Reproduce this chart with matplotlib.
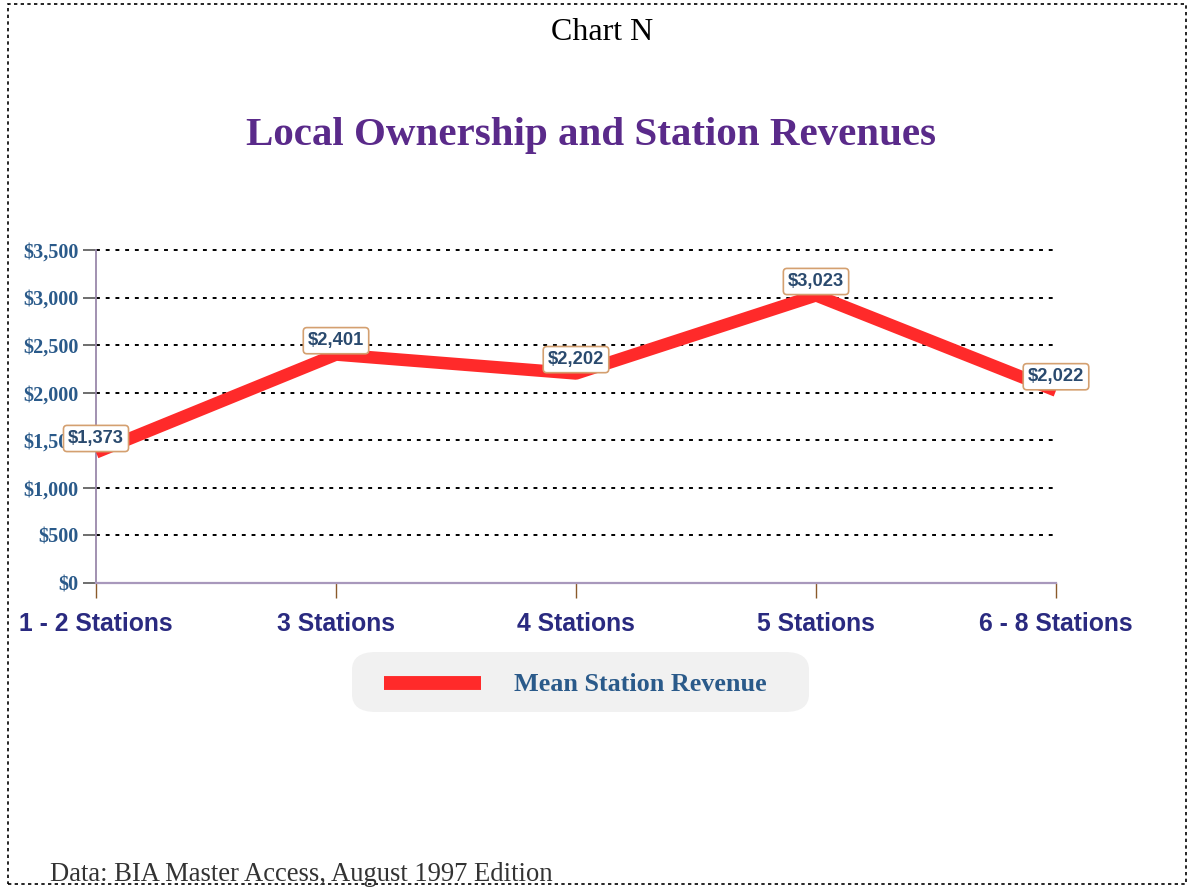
import matplotlib.pyplot as plt
from matplotlib.patches import Rectangle, FancyBboxPatch
from matplotlib.lines import Line2D

categories = ["1 - 2 Stations", "3 Stations", "4 Stations", "5 Stations", "6 - 8 Stations"]
revenue = [1373, 2401, 2202, 3023, 2022]
y_ticks = [0, 500, 1000, 1500, 2000, 2500, 3000, 3500]

serif = "Liberation Serif"
sans = "Liberation Sans"

fig = plt.figure(figsize=(11.91, 8.88), dpi=100)
ax = fig.add_axes([96 / 1191, 1 - 583 / 888, 960 / 1191, 333 / 888])

x = list(range(len(categories)))
ax.plot(x, revenue, color="#ff2a2a", lw=9, solid_capstyle="butt", zorder=3)

for xi, v in zip(x, revenue):
    ax.annotate(f"${v:,}", (xi, v), xytext=(0, 10), textcoords="offset points",
                ha="center", va="center", fontsize=13.2, fontweight="bold",
                family=sans, color="#2a4a6e", zorder=5, annotation_clip=False,
                bbox=dict(boxstyle="round,pad=0.25,rounding_size=0.2", fc="white",
                          ec="#d4a070", lw=1.2))

ax.set_xlim(0, len(categories) - 1)
ax.set_ylim(0, 3500)
ax.set_yticks(y_ticks)
ax.set_yticklabels([f"${t:,}" for t in y_ticks], family=serif, fontweight="bold",
                   fontsize=14.5, color="#2a5a8a")
ax.set_xticks(x)
ax.set_xticklabels(categories, family=sans, fontweight="bold", fontsize=17.8,
                   color="#2a2a80")
ax.tick_params(axis="y", length=9.5, width=1.2, color="#555555", pad=3)
ax.tick_params(axis="x", length=11, width=1, color="#8a5a2a", pad=10)

for t in y_ticks[1:]:
    ax.axhline(t, color="black", lw=1.4, ls=(0, (2, 3)), zorder=1, clip_on=False)

for s in ["top", "right"]:
    ax.spines[s].set_visible(False)
ax.spines["left"].set_color("#9a88aa")
ax.spines["bottom"].set_color("#a898bc")
ax.spines["left"].set_linewidth(1.3)
ax.spines["bottom"].set_linewidth(1.6)

# titles
fig.text(602 / 1191, 1 - 32 / 888, "Chart N", family=serif, fontsize=23,
         ha="center", va="center", color="black")
fig.text(591 / 1191, 1 - 136 / 888, "Local Ownership and Station Revenues",
         family=serif, fontweight="bold", fontsize=29.5, ha="center", va="center",
         color="#5a2a8a")

# legend box
fig.patches.append(FancyBboxPatch((352 / 1191, 1 - 712 / 888), 457 / 1191, 60 / 888,
                                  boxstyle="round,pad=0,rounding_size=0.02",
                                  transform=fig.transFigure, fc="#f1f1f1", ec="none"))
fig.lines.append(Line2D([384 / 1191, 481 / 1191], [1 - 683 / 888] * 2, color="#ff2a2a",
                        lw=10, solid_capstyle="butt", transform=fig.transFigure))
fig.text(514 / 1191, 1 - 684 / 888, "Mean Station Revenue", family=serif,
         fontweight="bold", fontsize=18.8, ha="left", va="center", color="#2a5a8a")

fig.text(50 / 1191, 1 - 874 / 888, "Data: BIA Master Access, August 1997 Edition",
         family=serif, fontsize=19.2, ha="left", va="center", color="#333333")

# dotted border
fig.patches.append(Rectangle((8 / 1191, 4 / 888), 1178 / 1191, 880 / 888,
                             transform=fig.transFigure, fill=False, ec="black",
                             lw=1.2, ls=(0, (2, 2))))

fig.savefig("out.png", dpi=100)
